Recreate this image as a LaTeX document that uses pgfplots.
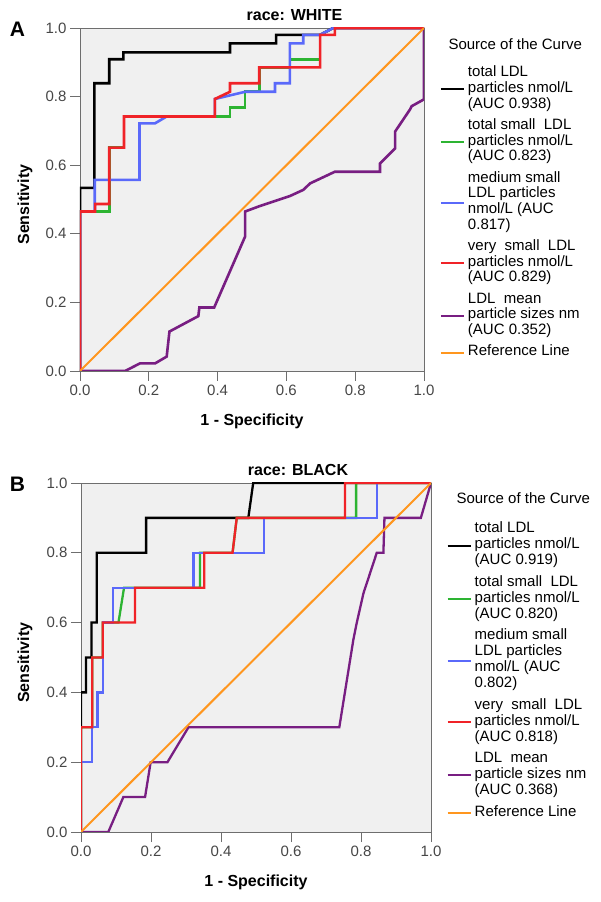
\documentclass[border=0pt]{standalone}
\usepackage{pgfplots}
\pgfplotsset{compat=1.18}
\usepackage{fontspec}
\setmainfont{Liberation Sans}
\definecolor{bg}{HTML}{F0F0F0}
\definecolor{cgreen}{RGB}{45,180,50}
\definecolor{cblue}{RGB}{90,105,250}
\definecolor{cred}{RGB}{240,35,40}
\definecolor{cpurple}{RGB}{120,30,130}
\definecolor{corange}{RGB}{255,150,30}
\definecolor{tickgray}{RGB}{70,70,70}
\definecolor{framegray}{RGB}{110,110,110}
\newcommand{\ent}[1]{\begin{tabular}[c]{@{}l@{}}#1\end{tabular}}
\pgfplotsset{
  legend image code/.code={\draw[#1, line width=2pt] (0pt,0pt) -- (23pt,0pt);},
  rocax/.style={
    scale only axis, xmin=0, xmax=1, ymin=0, ymax=1,
    xtick={0,0.2,0.4,0.6,0.8,1}, ytick={0,0.2,0.4,0.6,0.8,1},
    tick pos=left, tick align=outside, major tick length=10pt,
    tick style={color=framegray, line width=0.9pt},
    axis line style={color=framegray, line width=0.9pt},
    axis background/.style={fill=bg},
    ticklabel style={font=\fontsize{15}{18}\selectfont, text=tickgray},
    /pgf/number format/fixed, /pgf/number format/fixed zerofill,
    /pgf/number format/precision=1, /pgf/number format/assume math mode=true,
    xlabel={1 - Specificity}, ylabel={Sensitivity},
    xlabel style={font=\bfseries\fontsize{16}{18}\selectfont, anchor=center},
    ylabel style={font=\bfseries\fontsize{16}{18}\selectfont, anchor=center},
    legend cell align=left,
  },
}
\begin{document}
\begin{tikzpicture}
% Panel A
\begin{axis}[rocax, at={(80pt,531pt)}, anchor=south west, width=344pt, height=343pt,
  xlabel style={at={(axis description cs:0.5,-0.146)}},
  ylabel style={at={(axis description cs:-0.16,0.485)}},
  legend style={at={(1.0465,0.890)}, anchor=north west, draw=none, fill=none,
    inner sep=0pt, outer sep=0pt, row sep=5.6pt,
    font=\fontsize{15}{15.7}\selectfont, nodes={inner xsep=3pt, inner ysep=0pt, text depth=}}]
\addplot[black, line width=2.6pt] coordinates {(0,0)(0,0.534)(0.042,0.534)(0.042,0.839)(0.085,0.839)(0.085,0.909)(0.126,0.909)(0.126,0.929)(0.436,0.929)(0.436,0.955)(0.57,0.955)(0.57,0.98)(0.698,0.98)(0.736,1)(1,1)};
\addlegendentry{\ent{total LDL\\particles nmol/L\\(AUC 0.938)}}
\addplot[cgreen, line width=2.6pt] coordinates {(0,0)(0,0.465)(0.085,0.465)(0.085,0.651)(0.128,0.651)(0.128,0.742)(0.436,0.742)(0.436,0.769)(0.480,0.769)(0.480,0.814)(0.521,0.814)(0.521,0.885)(0.61,0.885)(0.61,0.908)(0.698,0.908)(0.698,0.98)(0.741,0.98)(0.741,1)(1,1)};
\addlegendentry{\ent{total small\ \ LDL\\particles nmol/L\\(AUC 0.823)}}
\addplot[cblue, line width=2.6pt] coordinates {(0,0)(0,0.465)(0.043,0.465)(0.043,0.557)(0.173,0.557)(0.173,0.722)(0.218,0.722)(0.252,0.742)(0.392,0.742)(0.392,0.793)(0.480,0.814)(0.567,0.814)(0.567,0.839)(0.61,0.839)(0.61,0.955)(0.649,0.955)(0.649,0.98)(0.698,0.98)(0.736,1)(1,1)};
\addlegendentry{\ent{medium small\\LDL particles\\nmol/L (AUC\\0.817)}}
\addplot[cred, line width=2.6pt] coordinates {(0,0)(0,0.465)(0.044,0.465)(0.044,0.487)(0.085,0.487)(0.085,0.651)(0.128,0.651)(0.128,0.742)(0.392,0.742)(0.392,0.793)(0.436,0.814)(0.436,0.839)(0.521,0.839)(0.521,0.885)(0.698,0.885)(0.698,0.98)(0.741,0.98)(0.741,1)(1,1)};
\addlegendentry{\ent{very\ \ small\ \ LDL\\particles nmol/L\\(AUC 0.829)}}
\addplot[cpurple, line width=2.6pt] coordinates {(0,0)(0.131,0)(0.174,0.022)(0.218,0.022)(0.252,0.042)(0.26,0.115)(0.344,0.160)(0.347,0.185)(0.39,0.185)(0.48,0.392)(0.48,0.465)(0.523,0.481)(0.61,0.51)(0.649,0.528)(0.669,0.547)(0.741,0.581)(0.872,0.581)(0.872,0.605)(0.916,0.649)(0.916,0.698)(0.959,0.762)(0.964,0.772)(1,0.792)(1,1)};
\addlegendentry{\ent{LDL\ \ mean\\particle sizes nm\\(AUC 0.352)}}
\addplot[corange, line width=2pt] coordinates {(0,0)(1,1)};
\addlegendentry{\ent{Reference Line}}
\end{axis}
\node[anchor=base west, font=\fontsize{15}{18}\selectfont] at (445pt,852.7pt) {Source of the Curve};
\node[font=\bfseries\fontsize{16}{18}\selectfont] at (294.5pt,887pt) {race: WHITE};
\node[font=\bfseries\fontsize{21}{24}\selectfont] at (17.5pt,873pt) {A};
% Panel B
\begin{axis}[rocax, at={(81pt,70pt)}, anchor=south west, width=350pt, height=349pt,
  xlabel style={at={(axis description cs:0.5,-0.143)}},
  ylabel style={at={(axis description cs:-0.16,0.485)}},
  legend style={at={(1.0449,0.889)}, anchor=north west, draw=none, fill=none,
    inner sep=0pt, outer sep=0pt, row sep=5.8pt,
    font=\fontsize{15}{15.9}\selectfont, nodes={inner xsep=3pt, inner ysep=0pt, text depth=}}]
\addplot[black, line width=2.3pt] coordinates {(0,0)(0,0.4)(0.014,0.4)(0.014,0.5)(0.03,0.5)(0.03,0.6)(0.045,0.6)(0.045,0.8)(0.186,0.8)(0.186,0.9)(0.478,0.9)(0.492,1)(1,1)};
\addlegendentry{\ent{total LDL\\particles nmol/L\\(AUC 0.919)}}
\addplot[cgreen, line width=2.3pt] coordinates {(0,0)(0,0.3)(0.032,0.3)(0.032,0.5)(0.062,0.5)(0.062,0.6)(0.107,0.6)(0.123,0.7)(0.34,0.7)(0.34,0.8)(0.433,0.8)(0.445,0.9)(0.786,0.9)(0.786,1)(1,1)};
\addlegendentry{\ent{total small\ \ LDL\\particles nmol/L\\(AUC 0.820)}}
\addplot[cblue, line width=2.3pt] coordinates {(0,0)(0,0.2)(0.032,0.2)(0.032,0.3)(0.047,0.3)(0.047,0.4)(0.062,0.4)(0.062,0.6)(0.092,0.6)(0.092,0.7)(0.321,0.7)(0.321,0.8)(0.523,0.8)(0.523,0.9)(0.845,0.9)(0.845,1)(1,1)};
\addlegendentry{\ent{medium small\\LDL particles\\nmol/L (AUC\\0.802)}}
\addplot[cred, line width=2.3pt] coordinates {(0,0)(0,0.3)(0.032,0.3)(0.032,0.5)(0.062,0.5)(0.062,0.6)(0.154,0.6)(0.154,0.7)(0.352,0.7)(0.352,0.8)(0.433,0.8)(0.445,0.9)(0.754,0.9)(0.754,1)(1,1)};
\addlegendentry{\ent{very\ \ small\ \ LDL\\particles nmol/L\\(AUC 0.818)}}
\addplot[cpurple, line width=2.3pt] coordinates {(0,0)(0.078,0)(0.121,0.1)(0.183,0.1)(0.199,0.2)(0.247,0.2)(0.307,0.3)(0.738,0.3)(0.778,0.55)(0.788,0.6)(0.807,0.684)(0.845,0.8)(0.864,0.8)(0.867,0.9)(0.971,0.9)(1,1)};
\addlegendentry{\ent{LDL\ \ mean\\particle sizes nm\\(AUC 0.368)}}
\addplot[corange, line width=2pt] coordinates {(0,0)(1,1)};
\addlegendentry{\ent{Reference Line}}
\end{axis}
\node[anchor=base west, font=\fontsize{15}{18}\selectfont] at (453pt,398pt) {Source of the Curve};
\node[font=\bfseries\fontsize{16}{18}\selectfont] at (298pt,432pt) {race: BLACK};
\node[font=\bfseries\fontsize{21}{24}\selectfont] at (17.5pt,418pt) {B};
\pgfresetboundingbox
\path[use as bounding box] (0,0) rectangle (600pt,902pt);
\end{tikzpicture}
\end{document}
